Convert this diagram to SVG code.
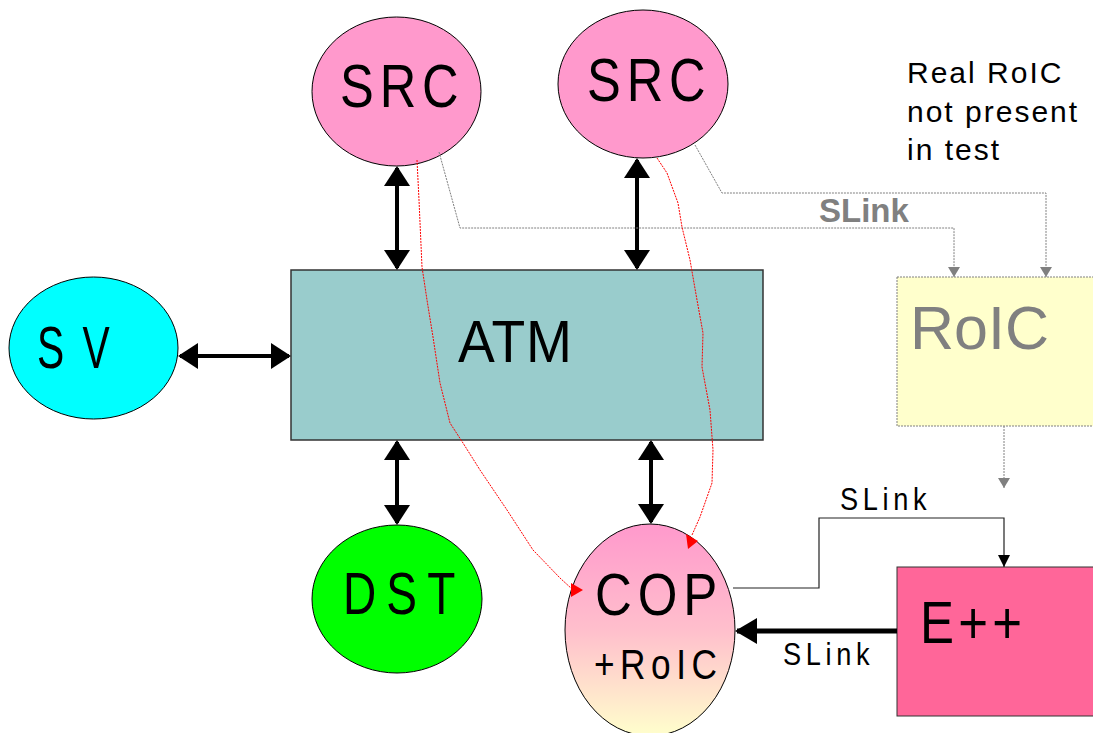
<svg xmlns="http://www.w3.org/2000/svg" width="1093" height="733" viewBox="0 0 1093 733">
<style>
.t{font-family:"Liberation Sans",Arial,sans-serif;fill:#000}
.node{stroke:#000;stroke-width:1}
.dbl{stroke:#000;stroke-width:4;fill:none;marker-start:url(#ab);marker-end:url(#ab)}
.gray{stroke:#808080;stroke-width:1;fill:none;stroke-dasharray:2,1}
.red{stroke:#ff0000;stroke-width:1;fill:none;stroke-dasharray:2,1}
</style>
<defs>
<marker id="ab" viewBox="0 0 20 26" refX="18" refY="13" markerWidth="20" markerHeight="26" markerUnits="userSpaceOnUse" orient="auto-start-reverse"><path d="M0,0 L20,13 L0,26 Z" fill="#000"/></marker>
<marker id="ag" viewBox="0 0 10 12" refX="10" refY="6" markerWidth="10" markerHeight="12" markerUnits="userSpaceOnUse" orient="auto"><path d="M0,0 L10,6 L0,12 Z" fill="#808080"/></marker>
<marker id="as" viewBox="0 0 12 12" refX="12" refY="6" markerWidth="12" markerHeight="12" markerUnits="userSpaceOnUse" orient="auto"><path d="M0,0 L12,6 L0,12 Z" fill="#000"/></marker>
<marker id="at" viewBox="0 0 22 26" refX="20" refY="13" markerWidth="22" markerHeight="26" markerUnits="userSpaceOnUse" orient="auto"><path d="M0,0 L22,13 L0,26 Z" fill="#000"/></marker>
<linearGradient id="copg" x1="0" y1="0" x2="0" y2="1">
<stop offset="0" stop-color="#ff99cc"/>
<stop offset="0.5" stop-color="#ffbfcc"/>
<stop offset="1" stop-color="#ffffcc"/>
</linearGradient>
</defs>

<g id="roic">
<rect x="897" y="277" width="200" height="149" fill="#ffffcc" stroke="#808080" stroke-width="1" stroke-dasharray="2,1"/>
<text class="t" x="910" y="349" font-size="61" style="fill:#808080">RoIC</text>
</g>

<g id="atm">
<rect x="291" y="270" width="472" height="170" fill="#99cccc" stroke="#333" stroke-width="1.5"/>
<text class="t" font-size="60" transform="translate(458,362) scale(0.92,1)" textLength="124" lengthAdjust="spacing">ATM</text>
</g>

<g id="src1">
<ellipse class="node" cx="396.5" cy="91.5" rx="84.5" ry="74.5" fill="#ff99cc"/>
<text class="t" font-size="61" transform="translate(340,107) scale(0.83,1)" textLength="143" lengthAdjust="spacing">SRC</text>
</g>

<g id="src2">
<ellipse class="node" cx="643" cy="84" rx="85" ry="74" fill="#ff99cc"/>
<text class="t" font-size="61" transform="translate(587,101) scale(0.83,1)" textLength="143" lengthAdjust="spacing">SRC</text>
</g>

<g id="sv">
<ellipse class="node" cx="93.5" cy="348" rx="84.5" ry="71" fill="#00ffff"/>
<text class="t" font-size="60" transform="translate(37,368) scale(0.68,1)" textLength="107" lengthAdjust="spacing">SV</text>
</g>

<g id="dst">
<ellipse class="node" cx="397" cy="599" rx="85" ry="74" fill="#00ff00"/>
<text class="t" font-size="59" transform="translate(343,614) scale(0.78,1)" textLength="144" lengthAdjust="spacing">DST</text>
</g>

<g id="cop">
<ellipse class="node" cx="650" cy="630" rx="85" ry="106" fill="url(#copg)"/>
<text class="t" font-size="60" transform="translate(595,615) scale(0.85,1)" textLength="144" lengthAdjust="spacing">COP</text>
<text class="t" font-size="43" transform="translate(594,679) scale(0.82,1)" textLength="150" lengthAdjust="spacing">+RoIC</text>
</g>

<g id="epp">
<rect x="897" y="567" width="200" height="149" fill="#ff6699" stroke="#333" stroke-width="1"/>
<text class="t" font-size="60" transform="translate(920,643) scale(0.85,1)" textLength="120" lengthAdjust="spacing">E++</text>
</g>

<g id="note">
<text class="t" font-size="30" x="907" y="83" letter-spacing="2">Real RoIC</text>
<text class="t" font-size="30" x="907" y="122" letter-spacing="2">not present</text>
<text class="t" font-size="30" x="907" y="160" letter-spacing="2">in test</text>
</g>

<g id="connectors">
<line class="dbl" x1="397" y1="168" x2="397" y2="268"/>
<line class="dbl" x1="637" y1="160" x2="637" y2="268"/>
<line class="dbl" x1="180" y1="356" x2="289" y2="356"/>
<line class="dbl" x1="397" y1="442" x2="397" y2="523"/>
<line class="dbl" x1="651" y1="442" x2="651" y2="522"/>

<polyline class="gray" points="439,152 460,228 954,228 954,277" marker-end="url(#ag)"/>
<polyline class="gray" points="695,145 722,193 1046,193 1046,277" marker-end="url(#ag)"/>
<line class="gray" x1="1004" y1="426" x2="1004" y2="488" marker-end="url(#ag)"/>
<text class="t" x="819" y="222" font-size="33" font-weight="bold" style="fill:#808080">SLink</text>

<polyline points="733,588 819,588 819,518 1004,518 1004,567" fill="none" stroke="#222" stroke-width="1.2" marker-end="url(#as)"/>
<text class="t" font-size="32" transform="translate(840,510) scale(0.85,1)" textLength="102" lengthAdjust="spacing">SLink</text>

<line x1="897" y1="631" x2="737" y2="631" stroke="#000" stroke-width="5" marker-end="url(#at)"/>
<text class="t" font-size="32" transform="translate(783,665) scale(0.85,1)" textLength="102" lengthAdjust="spacing">SLink</text>

<polyline class="red" points="417,160 419,200 422,267 427,300 433,337 440,383 450,423 463,443 480,470 507,510 533,550 560,578 572,589"/>
<polygon points="571,583 583,590 571,597" fill="#ff0000"/>
<polyline class="red" points="657,158 667,173 678,203 682,227 690,260 697,300 703,333 702,367 710,410 713,450 712,483 700,517 692,535"/>
<polygon points="686,534 698,541 688,549" fill="#ff0000"/>
</g>
</svg>
